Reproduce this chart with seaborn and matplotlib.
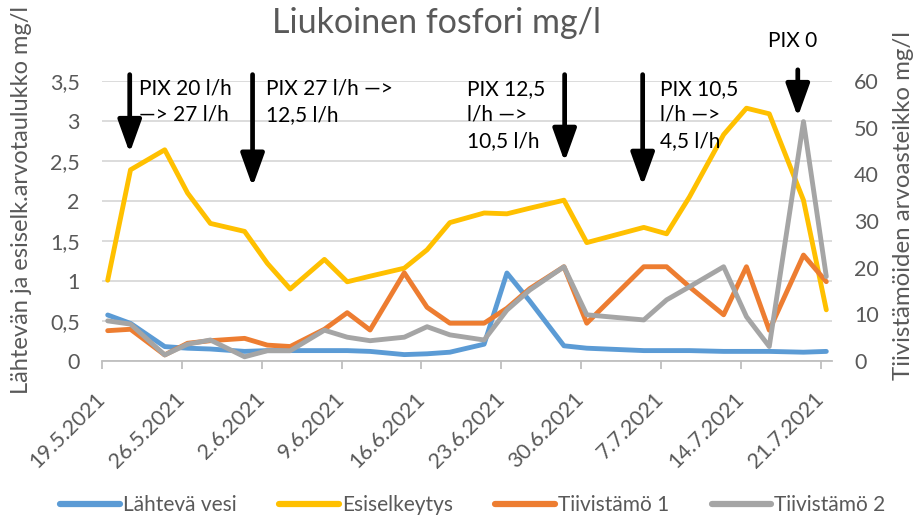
import numpy as np
import pandas as pd
import matplotlib
matplotlib.use("Agg")
import matplotlib.pyplot as plt
from matplotlib.lines import Line2D
from matplotlib.transforms import ScaledTranslation
import seaborn as sns

# ---- data ----
dates = ["19.5.2021", "21.5.2021", "24.5.2021", "26.5.2021", "28.5.2021", "31.5.2021",
         "2.6.2021", "4.6.2021", "7.6.2021", "9.6.2021", "11.6.2021", "14.6.2021",
         "16.6.2021", "18.6.2021", "21.6.2021", "23.6.2021", "25.6.2021", "28.6.2021",
         "30.6.2021", "5.7.2021", "7.7.2021", "9.7.2021", "12.7.2021", "14.7.2021",
         "16.7.2021", "19.7.2021", "21.7.2021"]
lahteva_vesi = [0.575, 0.47, 0.18, 0.16, 0.15, 0.12, 0.13, 0.13, 0.13, 0.13, 0.12, 0.08,
                0.09, 0.11, 0.21, 1.10, 0.75, 0.19, 0.16, 0.13, 0.13, 0.13, 0.12, 0.12,
                0.12, 0.11, 0.12]
esiselkeytys = [1.01, 2.39, 2.64, 2.10, 1.72, 1.62, 1.22, 0.90, 1.27, 0.99, 1.06, 1.16,
                1.39, 1.73, 1.85, 1.84, 1.91, 2.01, 1.48, 1.67, 1.59, 2.05, 2.83, 3.16,
                3.09, 2.01, 0.64]
tiivistamo1 = [6.5, 6.8, 1.3, 3.8, 4.35, 4.85, 3.4, 3.1, 6.8, 10.35, 6.64, 18.9,
               11.5, 8.1, 8.1, 11.3, 15.5, 20.2, 8.1, 20.2, 20.2, 15.9, 9.9, 20.2,
               6.6, 22.7, 17.0]
tiivistamo2 = [8.6, 7.9, 1.3, 3.6, 4.5, 0.9, 2.2, 2.2, 6.6, 5.1, 4.35, 5.1,
               7.35, 5.6, 4.5, 10.9, 15.2, 20.2, 9.9, 8.8, 13.1, 15.9, 20.2, 9.5,
               3.1, 51.3, 18.1]
tick_labels = ["19.5.2021", "26.5.2021", "2.6.2021", "9.6.2021", "16.6.2021",
               "23.6.2021", "30.6.2021", "7.7.2021", "14.7.2021", "21.7.2021"]
left_ticks = [0, 0.5, 1, 1.5, 2, 2.5, 3, 3.5]
left_ticklabels = ["0", "0,5", "1", "1,5", "2", "2,5", "3", "3,5"]
right_ticks = [0, 10, 20, 30, 40, 50, 60]
series_names = ["Lähtevä vesi", "Esiselkeytys", "Tiivistämö 1", "Tiivistämö 2"]
colors = ["#5B9BD5", "#FFC000", "#ED7D31", "#A5A5A5"]

# annotations: (text, x-day, y-top in left-axis units)
notes = [("PIX 20 l/h\n—> 27 l/h", 3.25, 3.53),
         ("PIX 27 l/h —>\n12,5 l/h", 14.4, 3.53),
         ("PIX 12,5\nl/h —>\n10,5 l/h", 32.0, 3.53),
         ("PIX 10,5\nl/h —>\n4,5 l/h", 48.9, 3.53),
         ("PIX 0", 58.4, 4.12)]
# arrows: (x-day, y-top, y-tip) in left-axis units
arrows = [(2.43, 3.58, 2.60), (13.2, 3.58, 2.18), (40.56, 3.58, 2.49),
          (47.4, 3.58, 2.19), (61.0, 3.64, 3.05)]

# ---- dataframe ----
dt = pd.to_datetime(dates, format="%d.%m.%Y")
start = pd.Timestamp("2021-05-19")
df = pd.DataFrame({
    "x": (dt - start).days + 0.5,
    series_names[0]: lahteva_vesi,
    series_names[1]: esiselkeytys,
    series_names[2]: tiivistamo1,
    series_names[3]: tiivistamo2,
})

sns.set_theme(style="white")
plt.rcParams["font.family"] = ["Lato", "DejaVu Sans"]
gray_txt = "#595959"

fig = plt.figure(figsize=(9.18, 5.22), dpi=100)
W, H = 918, 522
ax = fig.add_axes([102 / W, 1 - 361 / H, 730 / W, 280 / H])
ax2 = ax.twinx()

lw = 3.5
sns.lineplot(data=df, x="x", y=series_names[0], ax=ax, color=colors[0], lw=lw, legend=False)
sns.lineplot(data=df, x="x", y=series_names[1], ax=ax, color=colors[1], lw=lw, legend=False)
sns.lineplot(data=df, x="x", y=series_names[2], ax=ax2, color=colors[2], lw=lw, legend=False)
sns.lineplot(data=df, x="x", y=series_names[3], ax=ax2, color=colors[3], lw=lw, legend=False)

ax.set_xlim(0, 64)
ax.set_ylim(0, 3.5)
ax2.set_ylim(0, 60)
ax.set_xlabel("")
ax.set_ylabel("")
ax2.set_ylabel("")

ax.set_yticks(left_ticks)
ax.set_yticklabels(left_ticklabels)
ax2.set_yticks(right_ticks)
ax2.set_yticklabels([str(t) for t in right_ticks])
ax.set_xticks(np.arange(0, 64, 7))
ax.set_xticklabels(tick_labels, rotation=45, ha="right", va="center",
                   rotation_mode="anchor")
shift = ScaledTranslation(6 / 100, 0, fig.dpi_scale_trans)
for lab in ax.get_xticklabels():
    lab.set_transform(lab.get_transform() + shift)

ax.yaxis.grid(True, color="#d9d9d9", lw=1.3)
ax.xaxis.grid(False)
for s in ["left", "right", "top"]:
    ax.spines[s].set_visible(False)
for s in ["left", "right", "top", "bottom"]:
    ax2.spines[s].set_visible(False)
ax.spines["bottom"].set_color("#bfbfbf")
ax.spines["bottom"].set_linewidth(1.3)

ax.tick_params(axis="x", length=6, width=1.3, color="#bfbfbf", direction="out",
               labelsize=15.5, labelcolor=gray_txt, pad=19, bottom=True)
ax.tick_params(axis="y", length=0, pad=16, labelsize=15.5, labelcolor=gray_txt)
ax2.tick_params(axis="y", length=0, pad=16, labelsize=15.5, labelcolor=gray_txt)

# title and axis labels
fig.text(437 / W, 1 - 23 / H, "Liukoinen fosfori mg/l", ha="center", va="center",
         fontsize=24.5, color=gray_txt)
fig.text(22 / W, 1 - 200 / H, "Lähtevän ja esiselk.arvotaulukko mg/l", rotation=90,
         ha="center", va="center", fontsize=17, color=gray_txt)
fig.text(903 / W, 1 - 206 / H, "Tiivistämöiden arvoasteikko mg/l", rotation=90,
         ha="center", va="center", fontsize=17.3, color=gray_txt)

# arrows and notes on top
for x, ytop, ytip in arrows:
    ax2.annotate("", xy=(x, ytip), xytext=(x, ytop), xycoords=ax.transData,
                 textcoords=ax.transData, annotation_clip=False,
                 arrowprops=dict(arrowstyle="-|>,head_width=0.36,head_length=1.0",
                                 lw=3.4, color="black", shrinkA=0, shrinkB=0,
                                 mutation_scale=20))
for txt, x, y in notes:
    ax2.text(x, y, txt, transform=ax.transData, ha="left", va="top", fontsize=15,
             color="black", linespacing=1.38, clip_on=False)

handles = [Line2D([], [], color=c, lw=4.5) for c in colors]
fig.legend(handles, series_names, loc="center", bbox_to_anchor=(473 / W, 1 - 505 / H),
           ncol=4, frameon=False, fontsize=15, handlelength=2.85, handletextpad=0.15,
           columnspacing=2.05, labelcolor=gray_txt)

fig.savefig("out.png", dpi=100)
